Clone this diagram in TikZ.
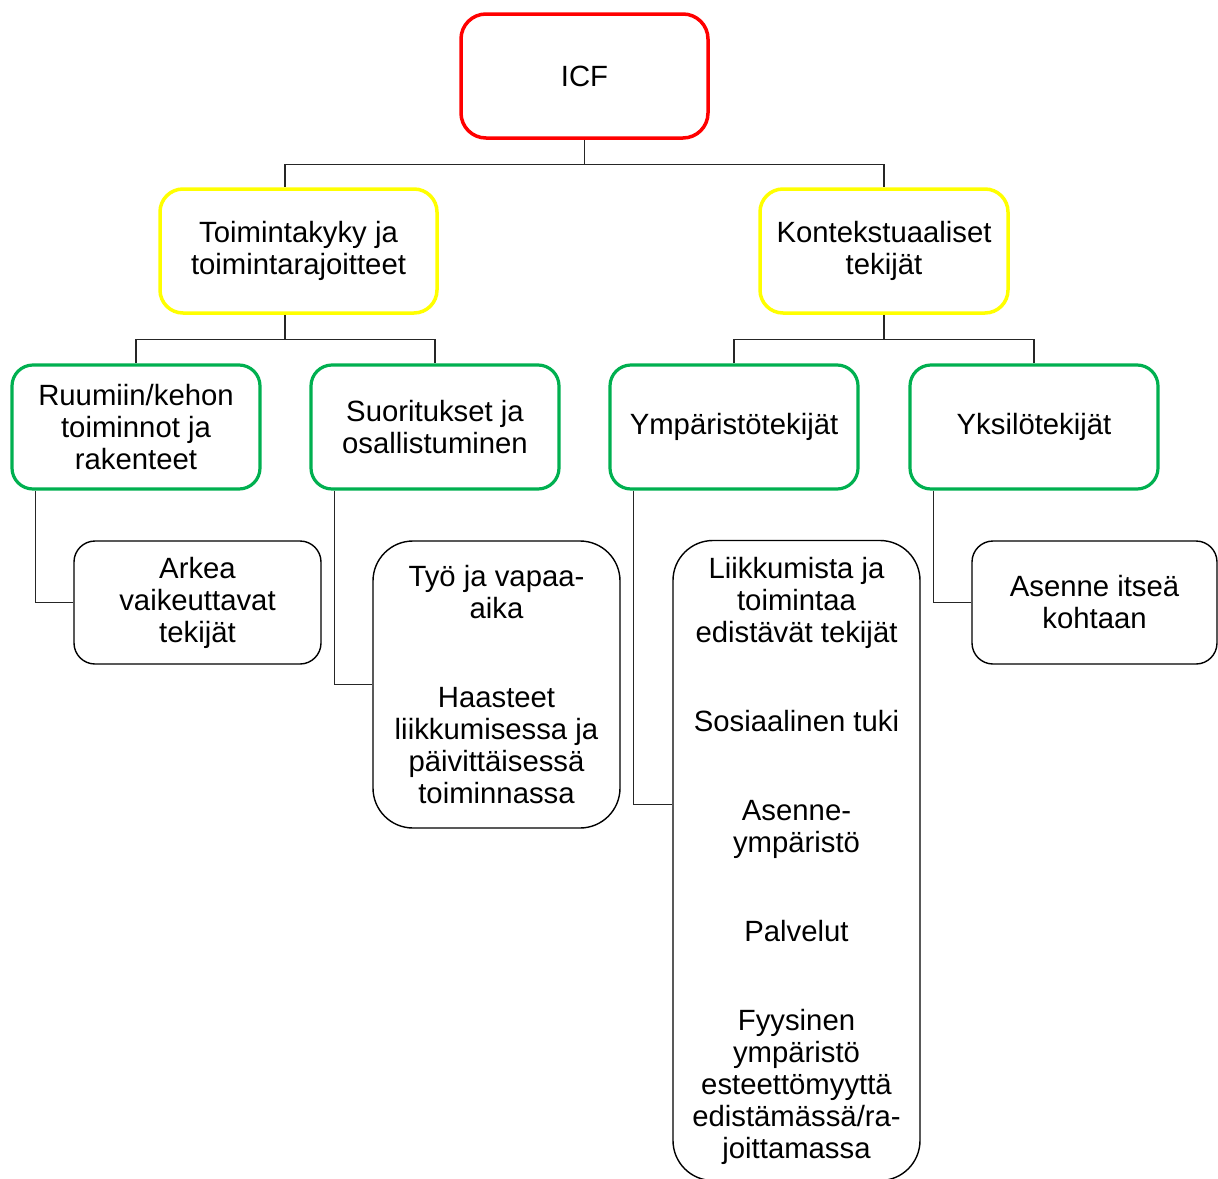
\documentclass[tikz,border=0pt]{standalone}
\usepackage{fontspec}
\setmainfont{Liberation Sans}
\definecolor{icfred}{HTML}{FF0000}
\definecolor{icfyellow}{HTML}{FFFF00}
\definecolor{icfgreen}{HTML}{00B050}
\begin{document}
\begin{tikzpicture}[x=1pt,y=-1pt,
  box/.style={rectangle, align=center, inner sep=0pt, fill=white,
    font=\fontsize{29.3}{32}\selectfont},
  topbox/.style={box, draw=icfred, line width=3.5pt, rounded corners=25pt},
  midbox/.style={box, draw=icfyellow, line width=3.5pt, rounded corners=23pt},
  catbox/.style={box, draw=icfgreen, line width=3.2pt, rounded corners=21pt,
    minimum width=248pt, minimum height=124pt},
  leafbox/.style={box, draw=black, line width=1.4pt, rounded corners=21pt},
  tallbox/.style={box, draw=black, line width=1.4pt, rounded corners=40pt},
  conn/.style={draw=black!85, line width=1.3pt}
]
\useasboundingbox (0,0) rectangle (1218,1178);
\fill[white] (0,0) rectangle (1218,1178);
\clip (0,0) rectangle (1218,1178);

\node[topbox, minimum width=247pt, minimum height=124pt] (icf) at (584.5,76) {ICF};
\node[midbox, minimum width=277pt, minimum height=124pt] (tk) at (298.5,251) {Toimintakyky ja\\toimintarajoitteet};
\node[midbox, minimum width=248pt, minimum height=124pt] (kt) at (884,251) {Kontekstuaaliset\\tekijät};
\node[catbox] (g1) at (136,427) {Ruumiin/kehon\\toiminnot ja\\rakenteet};
\node[catbox] (g2) at (435,427) {Suoritukset ja\\osallistuminen};
\node[catbox] (g3) at (734,427) {Ympäristötekijät};
\node[catbox] (g4) at (1034,427) {Yksilötekijät};
\node[leafbox, minimum width=247pt, minimum height=123pt] (l1) at (197.5,602.5) {Arkea\\vaikeuttavat\\tekijät};
\node[tallbox, minimum width=247pt, minimum height=287pt] (l2) at (496.5,684.5) {Työ ja vapaa-\\aika\\[57pt]Haasteet\\liikkumisessa ja\\päivittäisessä\\toiminnassa};
\node[tallbox, minimum width=247pt, minimum height=640pt] (l3) at (796.5,860.5) {Liikkumista ja\\toimintaa\\edistävät tekijät\\[57pt]Sosiaalinen tuki\\[57pt]Asenne-\\ympäristö\\[57pt]Palvelut\\[57pt]Fyysinen\\ympäristö\\esteettömyyttä\\edistämässä/ra-\\joittamassa};
\node[leafbox, minimum width=245pt, minimum height=123pt] (l4) at (1094.5,602.5) {Asenne itseä\\kohtaan};

% level 1 connectors
\coordinate (j0) at ([yshift=-25pt]icf.south);
\draw[conn] (icf.south) -- (j0);
\draw[conn] (j0) -| ([xshift=-13.5pt]tk.north);
\draw[conn] (j0) -| (kt.north);
% level 2 connectors
\coordinate (j1) at ([xshift=-13.5pt,yshift=-25pt]tk.south);
\draw[conn] ([xshift=-13.5pt]tk.south) -- (j1);
\draw[conn] (j1) -| (g1.north);
\draw[conn] (j1) -| (g2.north);
\coordinate (j2) at ([yshift=-25pt]kt.south);
\draw[conn] (kt.south) -- (j2);
\draw[conn] (j2) -| (g3.north);
\draw[conn] (j2) -| (g4.north);
% leaf connectors
\draw[conn] ([xshift=25pt]g1.south west) |- (l1.west);
\draw[conn] ([xshift=25pt]g2.south west) |- (l2.west);
\draw[conn] ([xshift=25pt]g3.south west) |- ([yshift=-265pt]l3.north west);
\draw[conn] ([xshift=25pt]g4.south west) |- (l4.west);
\end{tikzpicture}
\end{document}
